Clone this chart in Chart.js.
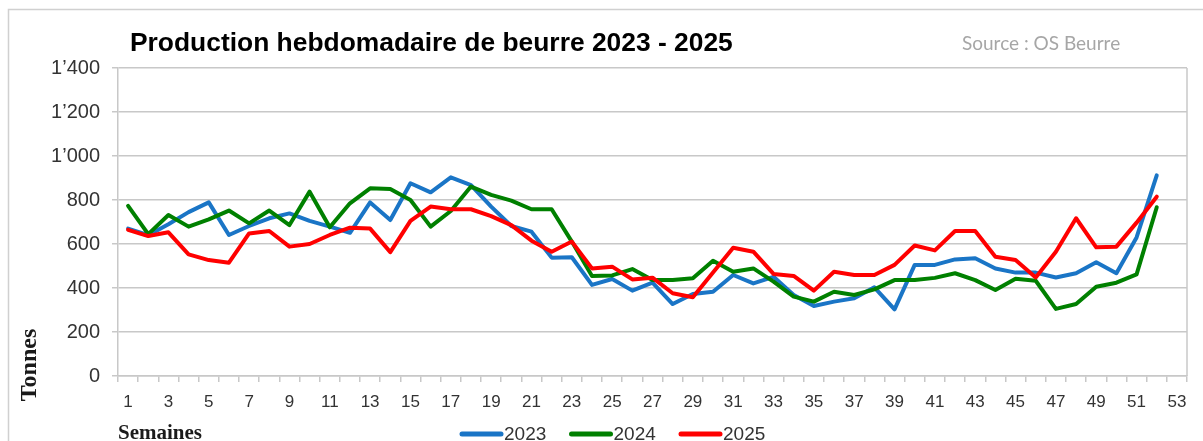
<!DOCTYPE html>
<html>
<head>
<meta charset="utf-8">
<script src="https://cdn.jsdelivr.net/npm/chart.js@4/dist/chart.umd.min.js"></script>
<style>
  html, body { margin: 0; padding: 0; background: #ffffff; }
  #wrap { position: relative; width: 1203px; height: 441px; }
  canvas { display: block; }
</style>
</head>
<body>
<div id="wrap"><canvas id="c" width="1203" height="441"></canvas></div>
<script>
// ---- Data ----
const weeks = Array.from({length: 53}, (_, i) => String(i + 1));
const seriesNames = ['2023', '2024', '2025'];
const prod2023 = [670, 640, 690, 745, 789, 641, 682, 717, 739, 705, 679, 651, 789, 709, 876, 835, 903, 868, 770, 682, 656, 538, 540, 414, 441, 388, 424, 327, 373, 383, 459, 421, 451, 368, 318, 338, 353, 403, 303, 505, 505, 530, 535, 489, 470, 470, 448, 467, 517, 467, 630, 912];
const prod2024 = [773, 645, 732, 679, 712, 752, 694, 752, 686, 838, 676, 785, 853, 850, 800, 679, 750, 861, 823, 797, 758, 758, 611, 455, 457, 486, 436, 436, 444, 524, 474, 489, 429, 361, 338, 383, 368, 394, 436, 436, 446, 467, 436, 391, 442, 433, 305, 327, 406, 424, 462, 767];
const prod2025 = [664, 636, 653, 553, 527, 515, 648, 659, 588, 600, 641, 674, 670, 563, 705, 770, 758, 758, 727, 686, 615, 565, 611, 489, 497, 439, 447, 376, 358, 470, 583, 565, 464, 455, 388, 474, 459, 459, 505, 593, 571, 659, 659, 542, 527, 448, 565, 717, 585, 588, 697, 815];
const yTicks = [0, 200, 400, 600, 800, 1000, 1200, 1400];
const titleText = 'Production hebdomadaire de beurre 2023 - 2025';
const sourceText = 'Source : OS Beurre';
const yTitle = 'Tonnes';
const xTitle = 'Semaines';

const colors = ['#1a75c6', '#008000', '#ff0000'];
const gridColor = '#c8c8c8';
const tickColor = '#333333';

function fmt(v) {
  if (v >= 1000) return Math.floor(v / 1000) + '\u2019' + String(v % 1000).padStart(3, '0');
  return String(v);
}

const decor = {
  id: 'decor',
  beforeDraw(chart) {
    const ctx = chart.ctx;
    ctx.save();
    ctx.fillStyle = '#ffffff';
    ctx.fillRect(0, 0, chart.width, chart.height);
    ctx.strokeStyle = '#d0d0d0';
    ctx.lineWidth = 1.5;
    ctx.beginPath();
    ctx.moveTo(8.5, chart.height);
    ctx.lineTo(8.5, 9.5);
    ctx.lineTo(chart.width, 9.5);
    ctx.stroke();
    ctx.restore();
  },
  afterDatasetsDraw(chart) {
    const ctx = chart.ctx;
    const a = chart.chartArea;
    ctx.save();
    ctx.strokeStyle = gridColor;
    ctx.lineWidth = 1.5;
    ctx.beginPath();
    ctx.moveTo(a.right, a.top);
    ctx.lineTo(a.right, a.bottom);
    ctx.stroke();
    ctx.restore();
  },
  afterDraw(chart) {
    const ctx = chart.ctx;
    ctx.save();
    ctx.fillStyle = '#000000';
    ctx.font = 'bold 26.4px "Liberation Sans", Arial, sans-serif';
    ctx.textBaseline = 'alphabetic';
    ctx.textAlign = 'left';
    ctx.fillText(titleText, 130, 51);
    ctx.fillStyle = '#a6a6a6';
    ctx.font = '19px Lato, "Open Sans", sans-serif';
    ctx.fillText(sourceText, 962, 50);
    ctx.fillStyle = '#1a1a1a';
    ctx.font = 'bold 21px "Liberation Serif", "Times New Roman", serif';
    ctx.fillText(xTitle, 118, 439);
    ctx.save();
    ctx.translate(36, 365);
    ctx.rotate(-Math.PI / 2);
    ctx.textAlign = 'center';
    ctx.font = 'bold 24px "Liberation Serif", "Times New Roman", serif';
    ctx.fillText(yTitle, 0, 0);
    ctx.restore();
    const x0 = 460, step = 109.5, ly = 434;
    chart.data.datasets.forEach((ds, i) => {
      const x = x0 + i * step;
      ctx.strokeStyle = ds.borderColor;
      ctx.lineWidth = 5;
      ctx.lineCap = 'round';
      ctx.beginPath();
      ctx.moveTo(x + 2, ly);
      ctx.lineTo(x + 41, ly);
      ctx.stroke();
      ctx.fillStyle = tickColor;
      ctx.font = '19px "Liberation Sans", Arial, sans-serif';
      ctx.textBaseline = 'middle';
      ctx.textAlign = 'left';
      ctx.fillText(ds.label, x + 44, ly + 1);
    });
    ctx.restore();
  }
};

const seriesData = [prod2023, prod2024, prod2025];

new Chart(document.getElementById('c'), {
  type: 'line',
  data: {
    labels: weeks,
    datasets: seriesNames.map((name, i) => ({
      label: name,
      data: seriesData[i],
      borderColor: colors[i],
      backgroundColor: colors[i],
      borderWidth: 4,
      pointRadius: 0,
      tension: 0,
      borderJoinStyle: 'round',
      borderCapStyle: 'round',
      order: 3 - i
    }))
  },
  options: {
    responsive: false,
    animation: false,
    devicePixelRatio: 1,
    layout: { padding: { top: 68, left: 0, right: 16, bottom: 0 } },
    plugins: {
      legend: { display: false },
      title: { display: false },
      tooltip: { enabled: false }
    },
    scales: {
      x: {
        type: 'category',
        offset: true,
        afterFit(scale) { scale.height = 65; },
        grid: {
          offset: true,
          drawOnChartArea: false,
          drawTicks: true,
          tickLength: 6,
          color: gridColor,
          lineWidth: 1.5
        },
        border: { display: true, color: gridColor, width: 1.5 },
        ticks: {
          autoSkip: false,
          maxRotation: 0,
          minRotation: 0,
          padding: 10,
          color: tickColor,
          font: { family: '"Liberation Sans", Arial, sans-serif', size: 17 },
          callback: function (val, idx) { return idx % 2 === 0 ? weeks[idx] : ''; }
        }
      },
      y: {
        min: 0,
        max: 1400,
        afterFit(scale) { scale.width = 118; },
        afterBuildTicks(scale) { scale.ticks = yTicks.map(v => ({ value: v })); },
        grid: {
          color: gridColor,
          lineWidth: 1.5,
          tickLength: 6,
          drawTicks: true
        },
        border: { display: true, color: gridColor, width: 1.5 },
        ticks: {
          padding: 12,
          color: tickColor,
          font: { family: '"Liberation Sans", Arial, sans-serif', size: 20 },
          callback: (v) => fmt(v)
        }
      }
    }
  },
  plugins: [decor]
});
</script>
</body>
</html>
